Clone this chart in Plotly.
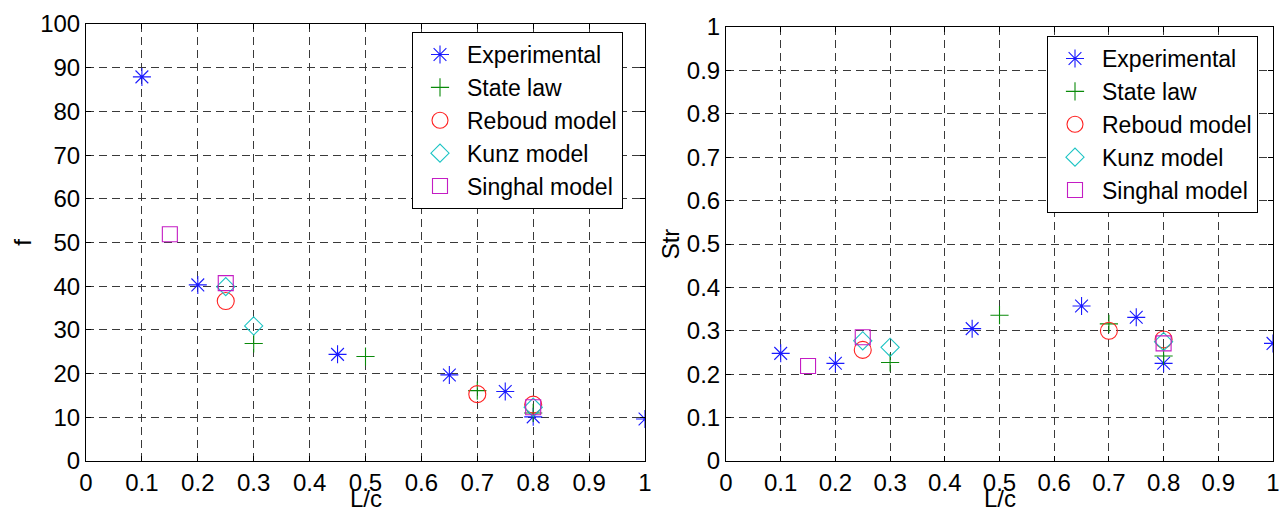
import plotly.graph_objects as go

# ---------------- data ----------------
series_names = ["Experimental", "State law", "Reboud model", "Kunz model", "Singhal model"]

# Left panel: f vs L/c
exp_x = [0.1, 0.2, 0.45, 0.65, 0.75, 0.8, 1.0]
exp_f = [87.9, 40.3, 24.4, 19.7, 15.9, 10.1, 9.6]
state_x = [0.3, 0.5, 0.7, 0.8]
state_f = [26.9, 23.9, 16.1, 11.0]
reboud_x = [0.25, 0.7, 0.8]
reboud_f = [36.6, 15.3, 12.9]
kunz_x = [0.25, 0.3, 0.8]
kunz_f = [39.9, 30.9, 12.3]
singhal_x = [0.15, 0.25, 0.8]
singhal_f = [51.9, 40.7, 12.3]

# Right panel: Str vs L/c
exp_str = [0.248, 0.225, 0.305, 0.357, 0.331, 0.225, 0.271]
state_str = [0.227, 0.336, 0.316, 0.242]
reboud_str = [0.256, 0.300, 0.280]
kunz_str = [0.277, 0.262, 0.275]
singhal_str = [0.219, 0.285, 0.271]

x_ticks = [0, 0.1, 0.2, 0.3, 0.4, 0.5, 0.6, 0.7, 0.8, 0.9, 1]
x_ticklabels = ["0", "0.1", "0.2", "0.3", "0.4", "0.5", "0.6", "0.7", "0.8", "0.9", "1"]
f_ticks = [0, 10, 20, 30, 40, 50, 60, 70, 80, 90, 100]
str_ticks = [0, 0.1, 0.2, 0.3, 0.4, 0.5, 0.6, 0.7, 0.8, 0.9, 1]
str_ticklabels = ["0", "0.1", "0.2", "0.3", "0.4", "0.5", "0.6", "0.7", "0.8", "0.9", "1"]
x_title = "L/c"

# ---------------- styles ----------------
W, H = 1279, 514
FONT = "Liberation Sans, Arial, sans-serif"
styles = [
    dict(symbol="asterisk-open", color="#1a1aff", size=15),
    dict(symbol="cross-thin-open", color="#0a8a0a", size=13),
    dict(symbol="circle-open", color="#ff2020", size=17),
    dict(symbol="diamond-open", color="#1cc4c4", size=14),
    dict(symbol="square-open", color="#c41cc4", size=15),
]

left_data = [(exp_x, exp_f), (state_x, state_f), (reboud_x, reboud_f), (kunz_x, kunz_f), (singhal_x, singhal_f)]
right_data = [(exp_x, exp_str), (state_x, state_str), (reboud_x, reboud_str), (kunz_x, kunz_str), (singhal_x, singhal_str)]

fig = go.Figure()
for name, st, (xs, ys) in zip(series_names, styles, left_data):
    fig.add_trace(go.Scatter(
        x=xs, y=ys, mode="markers", name=name, xaxis="x", yaxis="y", legend="legend",
        marker=dict(symbol=st["symbol"], size=st["size"], color=st["color"],
                    line=dict(color=st["color"], width=1.1)),
    ))
for name, st, (xs, ys) in zip(series_names, styles, right_data):
    fig.add_trace(go.Scatter(
        x=xs, y=ys, mode="markers", name=name, xaxis="x2", yaxis="y2", legend="legend2",
        marker=dict(symbol=st["symbol"], size=st["size"], color=st["color"],
                    line=dict(color=st["color"], width=1.1)),
    ))

axis_common = dict(
    showline=True, linecolor="black", linewidth=1, mirror="ticks",
    ticks="inside", ticklen=5, tickcolor="black", tickwidth=1,
    showgrid=True, gridcolor="#3a3a3a", gridwidth=1, griddash="8px,5px",
    zeroline=False, tickfont=dict(family=FONT, size=24, color="black"),
    automargin=False, ticklabeloverflow="allow",
)

xd1 = [86 / W, 645 / W]
xd2 = [726 / W, 1273 / W]

fig.update_layout(
    width=W, height=H,
    margin=dict(l=0, r=0, t=0, b=0),
    paper_bgcolor="white", plot_bgcolor="white",
    font=dict(family=FONT, size=24, color="black"),
    xaxis=dict(domain=xd1, range=[0, 1], tickmode="array",
               tickvals=x_ticks, ticktext=x_ticklabels, anchor="y",
               **axis_common),
    yaxis=dict(domain=[1 - 461 / H, 1 - 24 / H], range=[0, 100], tickmode="array",
               tickvals=f_ticks, anchor="x",
               title=dict(text="f", font=dict(family=FONT, size=24), standoff=1),
               **axis_common),
    xaxis2=dict(domain=xd2, range=[0, 1], tickmode="array",
                tickvals=x_ticks, ticktext=x_ticklabels, anchor="y2",
                **axis_common),
    yaxis2=dict(domain=[1 - 461 / H, 1 - 27 / H], range=[0, 1], tickmode="array",
                tickvals=str_ticks, ticktext=str_ticklabels, anchor="x2",
                title=dict(text="Str", font=dict(family=FONT, size=24), standoff=0),
                **axis_common),
    legend=dict(x=412 / W, y=1 - 32 / H, xanchor="left", yanchor="top",
                bgcolor="white", bordercolor="black", borderwidth=1,
                font=dict(family=FONT, size=23, color="black"), itemwidth=44),
    legend2=dict(x=1047 / W, y=1 - 36 / H, xanchor="left", yanchor="top",
                 bgcolor="white", bordercolor="black", borderwidth=1,
                 font=dict(family=FONT, size=23, color="black"), itemwidth=44),
    annotations=[
        dict(text=x_title, xref="paper", yref="paper", x=(xd1[0] + xd1[1]) / 2,
             y=0, xanchor="center", yanchor="bottom", showarrow=False,
             font=dict(family=FONT, size=24, color="black")),
        dict(text=x_title, xref="paper", yref="paper", x=(xd2[0] + xd2[1]) / 2,
             y=0, xanchor="center", yanchor="bottom", showarrow=False,
             font=dict(family=FONT, size=24, color="black")),
    ],
)

fig.write_html("out.html")
